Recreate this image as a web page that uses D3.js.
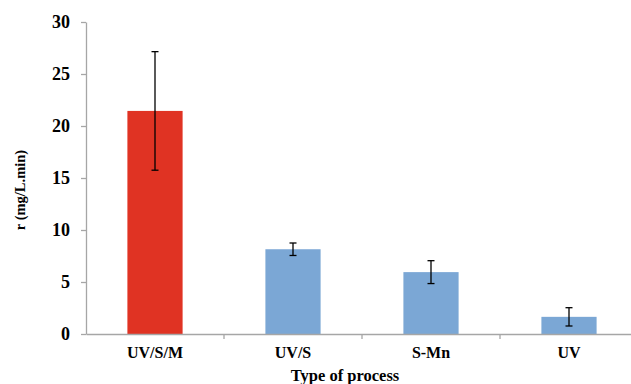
<!DOCTYPE html>
<html>
<head>
<meta charset="utf-8">
<script src="https://cdn.jsdelivr.net/npm/d3@7"></script>
<style>
  body { margin: 0; background: #fff; }
  svg text { font-family: 'Liberation Serif', 'Times New Roman', Times, serif !important; font-weight: bold; fill: #000; }
</style>
</head>
<body>
<div id="chart"></div>
<script>
// data
var processes = ["UV/S/M", "UV/S", "S-Mn", "UV"];
var rates = [21.45, 8.15, 5.95, 1.65];
var errors = [5.7, 0.6, 1.1, 0.88];
var barColors = ["#E03323", "#7BA7D5", "#7BA7D5", "#7BA7D5"];
var yTicks = [0, 5, 10, 15, 20, 25, 30];

var data = processes.map(function(p, i) {
  return {name: p, value: rates[i], err: errors[i], color: barColors[i]};
});

// set the graph
var width = 631, height = 384;
var margin = {top: 22, right: -7, bottom: 50, left: 86};

var svg = d3.select("#chart")
  .append("svg")
    .attr("width", width)
    .attr("height", height);

var x = d3.scaleBand()
  .domain(processes)
  .range([margin.left, width - margin.right])
  .paddingInner(0.6)
  .paddingOuter(0.3);

var y = d3.scaleLinear()
  .domain([0, 30])
  .range([height - margin.bottom, margin.top]);

// bars
svg.selectAll("rect.bar")
  .data(data)
  .enter()
  .append("rect")
    .attr("class", "bar")
    .attr("x", function(d) { return x(d.name); })
    .attr("y", function(d) { return y(d.value); })
    .attr("width", x.bandwidth())
    .attr("height", function(d) { return y(0) - y(d.value); })
    .attr("fill", function(d) { return d.color; });

// error bars
var eb = svg.selectAll("g.err")
  .data(data)
  .enter()
  .append("g")
    .attr("class", "err")
    .attr("stroke", "#000")
    .attr("stroke-width", 1.3);
eb.append("line")
  .attr("x1", function(d) { return x(d.name) + x.bandwidth() / 2; })
  .attr("x2", function(d) { return x(d.name) + x.bandwidth() / 2; })
  .attr("y1", function(d) { return y(d.value + d.err); })
  .attr("y2", function(d) { return y(d.value - d.err); });
eb.selectAll("line.cap")
  .data(function(d) { return [d.value + d.err, d.value - d.err].map(function(v) { return {name: d.name, v: v}; }); })
  .enter()
  .append("line")
    .attr("class", "cap")
    .attr("x1", function(d) { return x(d.name) + x.bandwidth() / 2 - 3.5; })
    .attr("x2", function(d) { return x(d.name) + x.bandwidth() / 2 + 3.5; })
    .attr("y1", function(d) { return y(d.v); })
    .attr("y2", function(d) { return y(d.v); });

// Y axis
var yAxis = svg.append("g")
  .attr("transform", "translate(" + margin.left + ",0)")
  .call(d3.axisLeft(y).tickValues(yTicks).tickSize(5).tickSizeOuter(0).tickPadding(11));
yAxis.attr("font-family", null);
yAxis.select(".domain").attr("stroke", "#A6A6A6").attr("stroke-width", 1.3);
yAxis.selectAll(".tick line").attr("stroke", "#A6A6A6").attr("stroke-width", 1.3);
yAxis.selectAll(".tick text")
  .style("font-size", "18px")
  .attr("fill", "#000");

// X axis
var xAxis = svg.append("g")
  .attr("transform", "translate(0," + y(0) + ")")
  .call(d3.axisBottom(x).tickSize(0).tickPadding(13));
xAxis.attr("font-family", null);
xAxis.select(".domain").attr("stroke", "#A6A6A6").attr("stroke-width", 1.3);
xAxis.selectAll(".tick text")
  .style("font-size", "16px")
  .attr("fill", "#000");

// category separators
var step = x.step();
svg.selectAll("line.sep")
  .data(processes.slice(1))
  .enter()
  .append("line")
    .attr("class", "sep")
    .attr("x1", function(d) { return x(d) - x.paddingInner() * step / 2; })
    .attr("x2", function(d) { return x(d) - x.paddingInner() * step / 2; })
    .attr("y1", y(0))
    .attr("y2", y(0) + 5)
    .attr("stroke", "#A6A6A6")
    .attr("stroke-width", 1.3);

// axis titles
svg.append("text")
  .attr("x", 345)
  .attr("y", 381)
  .attr("text-anchor", "middle")
  .style("font-size", "16.5px")
  .text("Type of process");

svg.append("text")
  .attr("transform", "translate(25,190) rotate(-90)")
  .attr("text-anchor", "middle")
  .style("font-size", "14.5px")
  .text("r (mg/L.min)");
</script>
</body>
</html>
